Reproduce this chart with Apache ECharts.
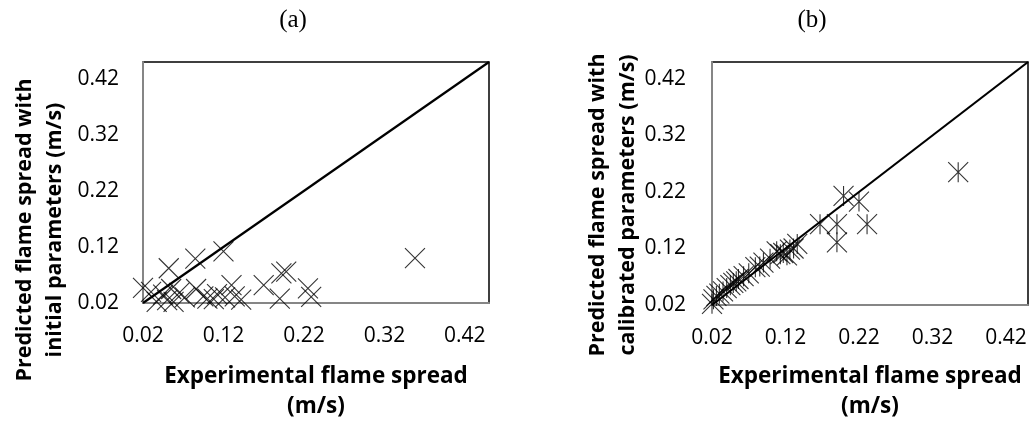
<!DOCTYPE html>
<html>
<head>
<meta charset="utf-8">
<script src="https://cdn.jsdelivr.net/npm/echarts@6/dist/echarts.min.js"></script>
<style>
html,body{margin:0;padding:0;background:#fff;}
#chart{width:1033px;height:425px;}
</style>
</head>
<body>
<div id="chart"></div>
<script>
// ---- data ----
var tickValues = [0.02, 0.12, 0.22, 0.32, 0.42];
var axisMin = 0.02, axisMax = 0.45;
var diagonal = [[0.02, 0.02], [0.45, 0.45]];

// (a) initial parameters: experimental vs predicted
var expA = [0.020, 0.030, 0.037, 0.045, 0.050, 0.052, 0.055, 0.058, 0.065, 0.072, 0.085, 0.086, 0.095, 0.100, 0.108, 0.112, 0.120, 0.122, 0.130, 0.134, 0.142, 0.170, 0.190, 0.192, 0.198, 0.225, 0.229, 0.358];
var predA = [0.047, 0.040, 0.022, 0.035, 0.025, 0.082, 0.045, 0.022, 0.038, 0.030, 0.099, 0.045, 0.032, 0.028, 0.027, 0.036, 0.112, 0.030, 0.052, 0.032, 0.026, 0.052, 0.028, 0.073, 0.076, 0.046, 0.031, 0.100];

// (b) calibrated parameters
var expB = [0.020, 0.022, 0.026, 0.030, 0.035, 0.040, 0.045, 0.049, 0.053, 0.056, 0.063, 0.070, 0.079, 0.085, 0.090, 0.099, 0.108, 0.113, 0.117, 0.122, 0.126, 0.131, 0.136, 0.167, 0.190, 0.190, 0.199, 0.220, 0.231, 0.355];
var predB = [0.022, 0.030, 0.036, 0.040, 0.044, 0.050, 0.055, 0.059, 0.062, 0.066, 0.071, 0.076, 0.087, 0.088, 0.095, 0.102, 0.115, 0.110, 0.112, 0.108, 0.118, 0.120, 0.128, 0.163, 0.163, 0.131, 0.213, 0.203, 0.163, 0.255];

function zip(a, b) { return a.map(function (v, i) { return [v, b[i]]; }); }

var FONT = '"Open Sans", "Noto Sans", sans-serif';
var crossPath = 'path://M0,0L20,20M20,0L0,20';
var starPath = 'path://M0,0L20,20M20,0L0,20M10,0L10,20';

function xAxis(idx) {
  return {
    type: 'value', gridIndex: idx, min: axisMin, max: axisMax,
    axisLine: { show: true, onZero: false, lineStyle: { color: '#868686', width: 2 } },
    axisTick: { show: false },
    splitLine: { show: false },
    axisLabel: {
      customValues: tickValues, margin: 23,
      formatter: function (v) { return v.toFixed(2); },
      fontFamily: FONT, fontSize: 21, color: '#000'
    }
  };
}
function yAxis(idx, margin) {
  return {
    type: 'value', gridIndex: idx, min: axisMin, max: axisMax,
    axisLine: { show: true, onZero: false, lineStyle: { color: '#868686', width: 2 } },
    axisTick: { show: false },
    splitLine: { show: false },
    axisLabel: {
      customValues: tickValues, margin: margin,
      formatter: function (v) { return v.toFixed(2); },
      fontFamily: FONT, fontSize: 21, color: '#000'
    }
  };
}

var chart = echarts.init(document.getElementById('chart'), null, { renderer: 'canvas' });
chart.setOption({
  animation: false,
  backgroundColor: '#fff',
  grid: [
    { left: 143, top: 62, width: 346, height: 241, show: true, borderColor: '#000', borderWidth: 1.5, backgroundColor: 'transparent', containLabel: false, outerBoundsMode: 'none' },
    { left: 712, top: 62, width: 316, height: 243, show: true, borderColor: '#000', borderWidth: 1.5, backgroundColor: 'transparent', containLabel: false, outerBoundsMode: 'none' }
  ],
  xAxis: [xAxis(0), xAxis(1)],
  yAxis: [yAxis(0, 24), yAxis(1, 26)],
  graphic: [
    { type: 'text', x: 293, y: 20, style: { text: '(a)', font: '25px "Liberation Serif", serif', fill: '#000', align: 'center', verticalAlign: 'middle' } },
    { type: 'text', x: 812, y: 20, style: { text: '(b)', font: '25px "Liberation Serif", serif', fill: '#000', align: 'center', verticalAlign: 'middle' } },
    { type: 'text', x: 316, y: 392, style: { text: 'Experimental flame spread\n(m/s)', font: 'bold 22.5px ' + FONT, fill: '#000', align: 'center', verticalAlign: 'middle', lineHeight: 30 } },
    { type: 'text', x: 870, y: 392, style: { text: 'Experimental flame spread\n(m/s)', font: 'bold 22.5px ' + FONT, fill: '#000', align: 'center', verticalAlign: 'middle', lineHeight: 30 } },
    { type: 'text', x: 40, y: 230, rotation: Math.PI / 2, style: { text: 'Predicted flame spread with\ninitial parameters (m/s)', font: 'bold 21.5px ' + FONT, fill: '#000', align: 'center', verticalAlign: 'middle', lineHeight: 30 } },
    { type: 'text', x: 613, y: 205, rotation: Math.PI / 2, style: { text: 'Predicted flame spread with\ncalibrated parameters (m/s)', font: 'bold 21.5px ' + FONT, fill: '#000', align: 'center', verticalAlign: 'middle', lineHeight: 30 } }
  ],
  series: [
    { type: 'scatter', xAxisIndex: 0, yAxisIndex: 0, data: zip(expA, predA), symbol: crossPath, symbolSize: 20, clip: false,
      itemStyle: { color: 'rgba(0,0,0,0)', borderColor: '#000', borderWidth: 1.1 } },
    { type: 'line', xAxisIndex: 0, yAxisIndex: 0, data: diagonal, showSymbol: false, symbol: 'none',
      lineStyle: { color: '#000', width: 2.2 }, z: 3 },
    { type: 'scatter', xAxisIndex: 1, yAxisIndex: 1, data: zip(expB, predB), symbol: starPath, symbolSize: 20, clip: false,
      itemStyle: { color: 'rgba(0,0,0,0)', borderColor: '#000', borderWidth: 1.1 } },
    { type: 'line', xAxisIndex: 1, yAxisIndex: 1, data: diagonal, showSymbol: false, symbol: 'none',
      lineStyle: { color: '#000', width: 2.2 }, z: 3 }
  ]
});
</script>
</body>
</html>
